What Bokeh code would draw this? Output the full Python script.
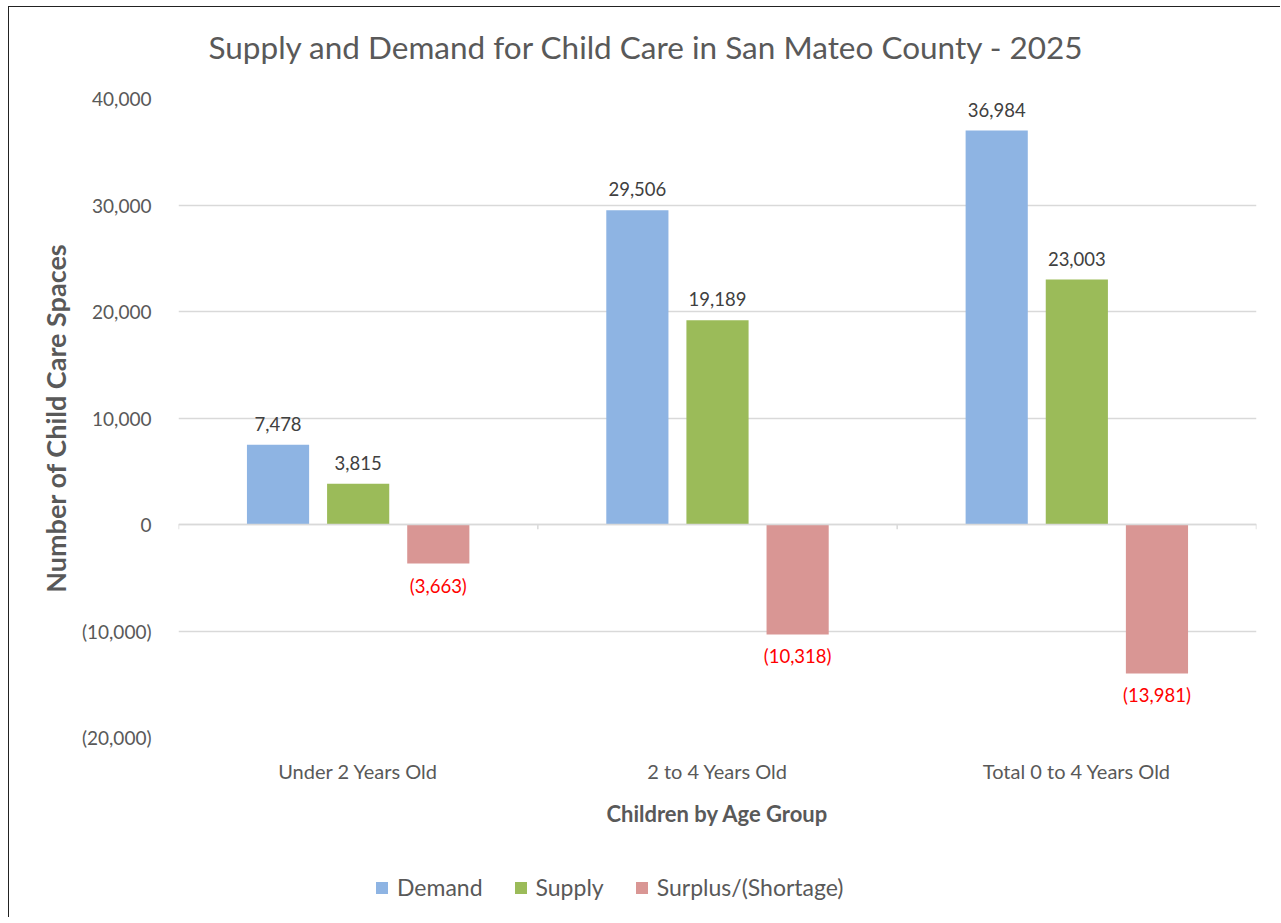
from bokeh.plotting import figure
from bokeh.models import (ColumnDataSource, Range1d, FixedTicker, LabelSet, Legend,
                          LegendItem, Span, Label)
from bokeh.layouts import column
from bokeh.transform import dodge
from bokeh.embed import file_html
from bokeh.resources import INLINE
from bokeh.core.properties import value

categories = ["Under 2 Years Old", "2 to 4 Years Old", "Total 0 to 4 Years Old"]
demand = [7478, 29506, 36984]
supply = [3815, 19189, 23003]
surplus = [-3663, -10318, -13981]
y_ticks = [-20000, -10000, 0, 10000, 20000, 30000, 40000]
series_names = ["Demand", "Supply", "Surplus/(Shortage)"]
colors = ["#8EB4E3", "#9BBB59", "#D99694"]
title_text = "Supply and Demand for Child Care in San Mateo County - 2025"

FONT = "Lato"
GRAY = "#595959"
FRAME_W, FRAME_H = 1078, 639
B_LEFT, B_RIGHT = 169, 24
TOTAL_W = B_LEFT + FRAME_W + B_RIGHT

def fmt(v):
    return f"({abs(v):,})" if v < 0 else f"{v:,}"

xs = [i + 0.5 for i in range(len(categories))]
src = ColumnDataSource(dict(
    x=xs, demand=demand, supply=supply, surplus=surplus,
    demand_lbl=[fmt(v) for v in demand],
    supply_lbl=[fmt(v) for v in supply],
    surplus_lbl=[fmt(v) for v in surplus],
))

# ---- title strip (frame aligned with the chart frame by the column layout) ----
p0 = figure(width=TOTAL_W, height=79, output_backend="svg", toolbar_location=None,
            x_axis_location=None, y_axis_location=None, min_border=0,
            x_range=Range1d(0, 1), y_range=Range1d(0, 1))
p0.outline_line_color = None
p0.grid.visible = False
p0.add_layout(Label(x=30, y=40, x_units="screen", y_units="screen",
                    text=title_text, text_font=FONT, text_font_size="31.5px",
                    text_color=GRAY, text_baseline="middle", text_align="left"))

# ---- main chart ----
p = figure(frame_width=FRAME_W, frame_height=FRAME_H, output_backend="svg", toolbar_location=None,
           x_range=Range1d(0, len(categories)), y_range=Range1d(y_ticks[0], y_ticks[-1]),
           min_border_left=B_LEFT, min_border_right=B_RIGHT, min_border_top=12,
           min_border_bottom=120)
p.outline_line_color = None
p.background_fill_color = "white"
p.border_fill_color = "white"

# y axis
p.yaxis.ticker = FixedTicker(ticks=y_ticks)
p.yaxis.major_label_overrides = {t: fmt(t) for t in y_ticks}
p.yaxis.axis_line_color = None
p.yaxis.major_tick_line_color = None
p.yaxis.minor_tick_line_color = None
p.yaxis.major_label_standoff = 21
p.yaxis.major_label_text_font = FONT
p.yaxis.major_label_text_font_size = "19px"
p.yaxis.major_label_text_color = GRAY
p.yaxis.axis_label = "Number of Child Care Spaces"
p.yaxis.axis_label_text_font = FONT
p.yaxis.axis_label_text_font_size = "27px"
p.yaxis.axis_label_text_font_style = "bold"
p.yaxis.axis_label_text_color = GRAY
p.yaxis.axis_label_standoff = 7

# x axis
p.xaxis.ticker = FixedTicker(ticks=xs)
p.xaxis.major_label_overrides = {x: c for x, c in zip(xs, categories)}
p.xaxis.axis_line_color = None
p.xaxis.major_tick_line_color = None
p.xaxis.minor_tick_line_color = None
p.xaxis.major_label_standoff = 15
p.xaxis.major_label_text_font = FONT
p.xaxis.major_label_text_font_size = "20px"
p.xaxis.major_label_text_color = GRAY
p.xaxis.axis_label = "Children by Age Group"
p.xaxis.axis_label_text_font = FONT
p.xaxis.axis_label_text_font_size = "22px"
p.xaxis.axis_label_text_font_style = "bold"
p.xaxis.axis_label_text_color = GRAY
p.xaxis.axis_label_standoff = 14

p.xgrid.grid_line_color = None
p.ygrid.grid_line_color = "#D9D9D9"
p.ygrid.grid_line_width = 1.5

# zero line + category boundary ticks
p.add_layout(Span(location=0, dimension="width", line_color="#D9D9D9", line_width=1.5))
bounds = list(range(len(categories) + 1))
p.segment(x0=bounds, x1=bounds, y0=[0] * len(bounds), y1=[-450] * len(bounds),
          line_color="#D9D9D9", line_width=1.5)

offset = 0.223
bw = 0.173
cols = ["demand", "supply", "surplus"]
for i, (c, col) in enumerate(zip(cols, colors)):
    p.vbar(x=dodge("x", (i - 1) * offset, range=p.x_range), top=c, bottom=0,
           width=bw, source=src, fill_color=col, line_color=None)

for i, c in enumerate(cols[:2]):
    p.add_layout(LabelSet(x=dodge("x", (i - 1) * offset, range=p.x_range), y=c,
                          text=c + "_lbl", source=src, y_offset=14,
                          text_align="center", text_baseline="bottom",
                          text_font=value(FONT), text_font_size="18.5px",
                          text_color="#404040"))
p.add_layout(LabelSet(x=dodge("x", offset, range=p.x_range), y="surplus",
                      text="surplus_lbl", source=src, y_offset=-11,
                      text_align="center", text_baseline="top",
                      text_font=value(FONT), text_font_size="18.5px",
                      text_color="#FF0000"))

# ---- legend strip: same series drawn out of view, only their legend shows ----
p2 = figure(width=TOTAL_W, height=60, output_backend="svg", toolbar_location=None,
            x_axis_location=None, y_axis_location=None, min_border=0,
            x_range=Range1d(0, len(categories)), y_range=Range1d(1e6, 1e6 + 1))
p2.outline_line_color = None
p2.grid.visible = False
legend_renderers = [p2.vbar(x="x", top=c, bottom=0, width=bw, source=src,
                            fill_color=col, line_color=None)
                    for c, col in zip(cols, colors)]
legend = Legend(items=[LegendItem(label=n, renderers=[r])
                       for n, r in zip(series_names, legend_renderers)],
                orientation="horizontal", location=(196, 16),
                label_text_font=FONT, label_text_font_size="23px", label_text_color=GRAY,
                glyph_width=15, glyph_height=15, spacing=30, label_standoff=8,
                border_line_color=None, background_fill_alpha=0, margin=0, padding=0)
p2.add_layout(legend, "center")

layout = column(p0, p, p2, spacing=0,
                styles={"border-left": "1px solid #222", "border-top": "1px solid #222",
                        "margin-left": "8px", "margin-top": "6px"})

open("out.html", "w").write(file_html(layout, INLINE))
